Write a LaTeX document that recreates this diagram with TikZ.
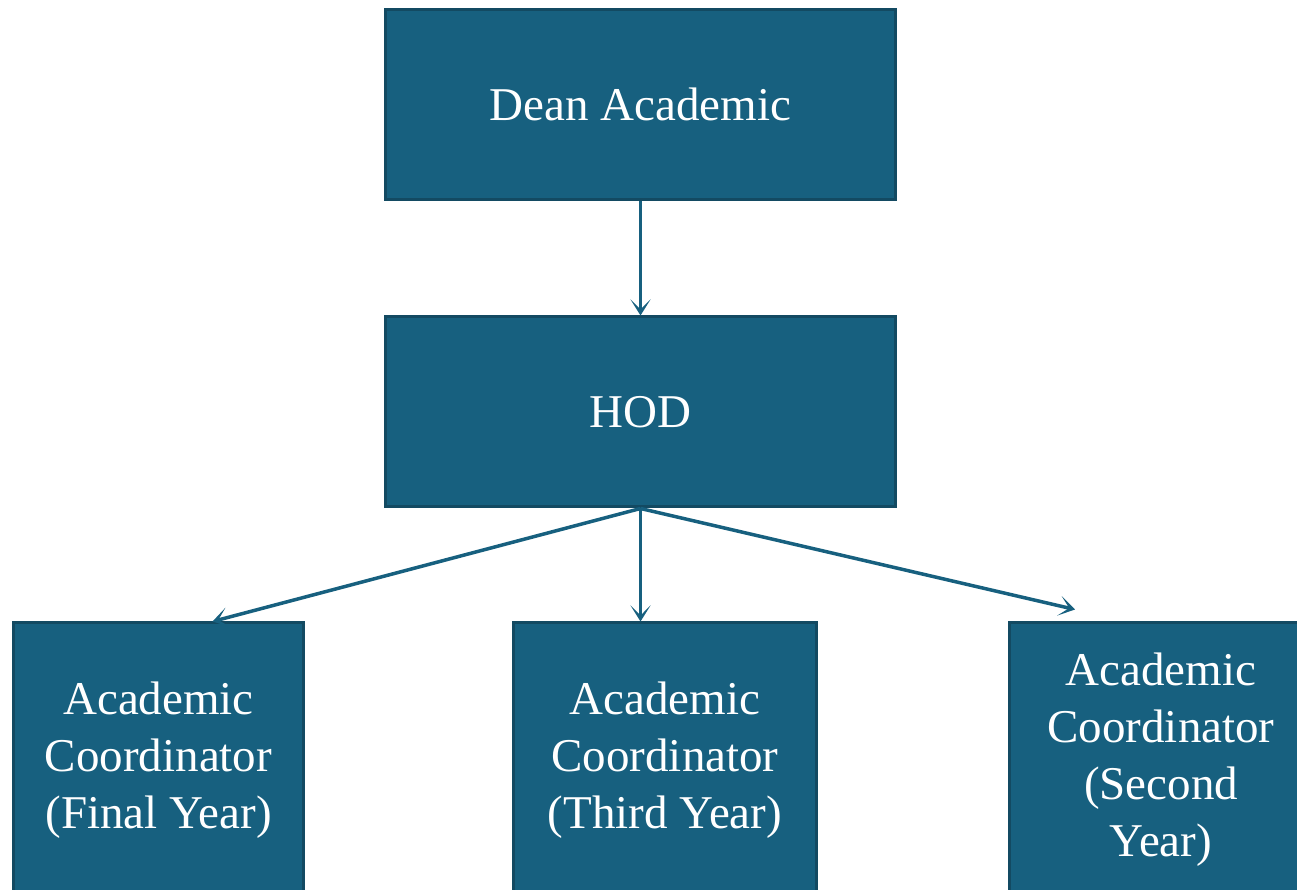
\documentclass[tikz,border=0pt]{standalone}
\usepackage{fontspec}
\setmainfont{Liberation Serif}
\usetikzlibrary{arrows.meta}
\definecolor{boxfill}{HTML}{17607F}
\definecolor{boxline}{HTML}{134A62}
\tikzstyle{orgbox}=[draw=boxline,fill=boxfill,line width=3pt,text=white,align=center,
  font=\fontsize{47}{57}\selectfont,inner sep=0pt]
\tikzstyle{link}=[draw=boxfill,line width=3.5pt,-{Stealth[length=16pt,width=20pt,inset=10pt]}]

\begin{document}
\begin{tikzpicture}[x=1pt,y=1pt]
	\useasboundingbox (0,0) rectangle (1297,890);
	\clip (0,0) rectangle (1297,890);
	% top levels
	\node[orgbox,minimum width=510pt,minimum height=190pt] (dean) at (640.5,785.5) {Dean Academic};
	\node[orgbox,minimum width=510pt,minimum height=190pt] (hod) at (640.5,478) {HOD};
	% coordinators, cut by the page bottom
	\node[orgbox,minimum width=290pt,minimum height=274pt] (final) at (158.5,130) {Academic\\Coordinator\\(Final Year)};
	\node[orgbox,minimum width=303pt,minimum height=274pt] (third) at (665,130) {Academic\\Coordinator\\(Third Year)};
	\node[orgbox,minimum width=303pt,minimum height=274pt] (second) at (1161,130) {Academic\\Coordinator\\(Second\\Year)};
	\coordinate (finaltop) at ([xshift=54pt]final.north);
	\coordinate (secondtop) at ([shift={(-86pt,12pt)}]second.north);
	\draw[link] (dean.south) -- (hod.north);
	\draw[link] (hod.south) -- (finaltop);
	\draw[link] (hod.south) -- (hod.south |- third.north);
	\draw[link] (hod.south) -- (secondtop);
\end{tikzpicture}
\end{document}
